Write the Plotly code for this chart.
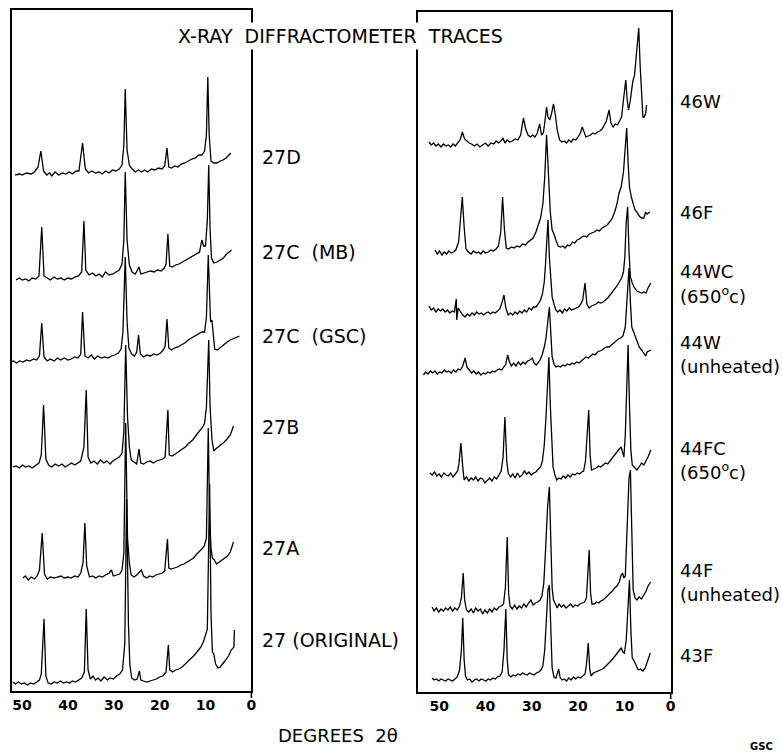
import plotly.graph_objects as go

# ---------------- data: (2-theta in degrees, relative intensity) ----------------
T_27D = [(51.5,0),(50.5,1),(50,0),(49,2),(48,1),(47.3,3),(46.5,8),(45.9,24),(45.3,4),(44.6,0),(44,2),(43.5,-1),
 (42.8,3),(42,0),(41.2,2),(40.5,1),(39.7,3),(39,1),(38.2,4),(37.6,4),(36.8,32),(36.2,6),(35.5,2),(34.8,4),(34,2),
 (33.2,3),(32.5,1),(31.8,4),(31,2),(30.3,5),(29.5,4),(28.8,6),(28.2,10),(27.8,30),(27.5,86),(27.1,25),(26.6,10),
 (26,6),(25.3,3),(24.6,5),(24,3),(23.3,5),(22.6,3),(21.8,6),(21,5),(20.3,7),(19.5,6),(18.9,9),(18.4,27),(18,8),
 (17.4,7),(16.7,9),(16,8),(15.3,11),(14.5,12),(13.7,14),(13,16),(12.2,17),(11.5,20),(10.8,20),(10.2,24),(9.8,40),
 (9.5,98),(9.2,40),(8.8,14),(8.2,12),(7.5,12),(6.8,14),(6.2,15),(5.5,17),(5,19),(4.5,22)]
T_27C_MB = [(51.3,0),(50.6,2),(49.9,0),(49.2,1),(48.5,-1),(47.8,2),(47,1),(46.3,4),(45.7,53),(45.2,4),(44.5,2),
 (43.8,0),(43,3),(42.3,1),(41.5,2),(40.8,0),(40,2),(39.2,1),(38.5,3),(37.7,4),(37,8),(36.5,59),(36.1,10),(35.4,5),
 (34.6,7),(33.9,4),(33.2,6),(32.5,3),(31.8,8),(31,5),(30.2,6),(29.5,8),(28.8,10),(28.2,16),(27.8,40),(27.5,108),
 (27.1,40),(26.6,15),(26,8),(25.3,6),(24.9,10),(24.5,13),(24.1,6),(23.4,7),(22.7,8),(22,9),(21.2,8),(20.5,10),
 (19.7,9),(19,12),(18.6,16),(18.2,46),(17.8,14),(17.2,13),(16.5,15),(15.8,16),(15,18),(14.3,20),(13.6,22),
 (12.8,24),(12,26),(11.3,28),(10.8,40),(10.4,34),(10,34),(9.6,60),(9.3,115),(9.0,50),(8.7,22),(8.2,17),(7.5,18),
 (6.8,20),(6.1,22),(5.4,26),(4.8,28),(4.3,30)]
T_27C_GSC = [(52.6,0),(51.9,1),(51.2,-1),(50.5,1),(49.8,0),(49,2),(48.3,1),(47.5,3),(46.8,2),(46.2,6),(45.7,39),
 (45.2,5),(44.5,1),(43.8,3),(43,1),(42.3,4),(41.6,2),(40.8,4),(40,2),(39.3,3),(38.5,5),(37.8,4),(37.2,8),(36.8,50),
 (36.3,6),(35.6,4),(34.9,7),(34.2,3),(33.5,6),(32.7,4),(32,5),(31.3,4),(30.5,6),(29.8,7),(29,9),(28.4,13),(28,30),
 (27.5,105),(27.1,40),(26.7,14),(26.1,8),(25.5,6),(25,10),(24.6,27),(24.2,8),(23.5,5),(22.8,7),(22,6),(21.3,8),
 (20.6,7),(19.8,9),(19.2,12),(18.8,16),(18.4,43),(18,14),(17.4,12),(16.8,14),(16,15),(15.3,17),(14.5,19),(13.8,22),
 (13,24),(12.2,26),(11.5,28),(10.8,30),(10.2,30),(9.8,45),(9.4,107),(9.1,60),(8.9,40),(8.6,42),(8.4,30),(8.0,13),
 (7.4,12),(6.7,15),(6,18),(5.3,20),(4.6,22),(3.7,24),(2.6,26)]
T_27B = [(52,0),(51.3,1),(50.6,-1),(49.9,2),(49.2,0),(48.5,1),(47.8,-1),(47,2),(46.3,4),(45.8,12),(45.3,62),(44.8,8),
 (44.2,2),(43.5,0),(42.8,3),(42,1),(41.3,3),(40.6,0),(39.9,2),(39.2,4),(38.5,2),(37.8,4),(37.2,6),(36.5,20),(36,77),
 (35.6,10),(35,4),(34.3,6),(33.6,3),(32.9,7),(32.2,4),(31.5,6),(30.8,3),(30.2,6),(29.5,8),(28.8,10),(28.2,14),
 (27.8,35),(27.4,122),(27,50),(26.6,20),(26.2,7),(25.6,5),(25,3),(24.5,18),(24.1,4),(23.5,3),(22.8,5),(22.1,6),
 (21.4,4),(20.7,6),(20,7),(19.3,8),(18.8,10),(18.5,30),(18.2,57),(17.9,12),(17.3,11),(16.6,13),(15.9,15),(15.1,18),
 (14.4,20),(13.6,24),(12.8,27),(12,32),(11.3,36),(10.6,40),(10.2,44),(9.8,60),(9.3,127),(9.0,60),(8.6,28),(8.2,16),
 (7.8,18),(7.2,20),(6.6,22),(5.9,25),(5.3,28),(4.6,32),(3.9,41)]
T_27A = [(49.8,0),(49.3,2),(48.6,-2),(48,1),(47.3,-1),(46.7,2),(46.2,8),(45.6,45),(45.1,4),(44.5,-1),(43.8,1),(43,0),
 (42.3,1),(41.5,2),(40.8,0),(40,1),(39.3,0),(38.5,2),(37.8,1),(37.2,5),(36.7,15),(36.3,55),(35.9,12),(35.3,1),
 (34.6,2),(33.9,0),(33.2,2),(32.5,1),(31.8,3),(31,5),(30.5,8),(30.1,2),(29.4,3),(28.7,4),(28.2,8),(27.8,25),
 (27.4,155),(27,40),(26.6,15),(26.2,3),(25.6,1),(25,3),(24.4,6),(24,8),(23.5,2),(22.8,0),(22.2,2),(21.5,1),(20.8,3),
 (20.1,4),(19.4,5),(18.9,7),(18.6,20),(18.3,39),(18,10),(17.5,9),(16.8,10),(16.1,11),(15.4,13),(14.7,14),(14,16),
 (13.3,18),(12.6,20),(11.9,24),(11.2,27),(10.6,30),(10.2,33),(9.8,40),(9.4,150),(9.1,60),(8.8,30),(8.5,20),(8.1,18),
 (7.6,14),(7.0,16),(6.4,18),(5.8,20),(5.2,22),(4.6,26),(3.9,36)]
T_27 = [(52,2),(51.4,0),(50.8,2),(50.1,0),(49.5,1),(48.8,-1),(48.2,1),(47.5,0),(46.8,2),(46.2,4),(45.8,10),(45.2,65),
 (44.8,8),(44.3,1),(43.6,0),(43,2),(42.3,1),(41.6,3),(41,1),(40.3,2),(39.6,1),(39,3),(38.3,2),(37.6,4),(37,6),
 (36.4,12),(36,75),(35.6,14),(35.1,5),(34.5,8),(34,4),(33.4,6),(32.8,3),(32.1,7),(31.4,4),(30.8,6),(30.1,5),(29.4,8),
 (28.7,10),(28.1,14),(27.6,40),(27.2,185),(26.8,60),(26.5,20),(26.1,6),(25.5,4),(24.9,5),(24.4,13),(24.1,4),(23.5,3),
 (22.8,2),(22.1,3),(21.4,4),(20.7,5),(20,7),(19.3,8),(18.6,12),(18.1,39),(17.8,14),(17.2,12),(16.5,14),(15.8,15),
 (15.1,17),(14.4,20),(13.7,24),(13,27),(12.4,29),(11.7,33),(11,37),(10.4,43),(10,49),(9.6,55),(9.1,200),(8.8,70),
 (8.5,32),(8.2,30),(7.8,20),(7.3,16),(6.8,17),(6.2,20),(5.6,24),(5,28),(4.4,34),(3.8,37),(3.7,54)]

T_46W = [(52.2,3),(51.7,0),(51.2,2),(50.7,-1),(50.2,1),(49.6,-2),(49.1,1),(48.5,-1),(48,0),(47.5,-2),(47,1),(46.5,-1),
 (46,2),(45.4,6),(45,13),(44.5,6),(44,4),(43.5,2),(43,1),(42.4,-1),(41.8,1),(41.2,-2),(40.6,0),(40,2),(39.4,-1),
 (38.8,2),(38.2,1),(37.7,4),(37.2,2),(36.7,4),(36.2,7),(35.8,2),(35.3,5),(34.8,3),(34.2,4),(33.6,6),(33,5),(32.4,10),
 (31.8,27),(31.3,16),(30.8,10),(30.3,8),(29.8,10),(29.3,8),(28.8,12),(28.3,21),(27.9,10),(27.5,12),(27.2,22),
 (26.8,38),(26.5,28),(26.1,25),(25.7,32),(25.3,41),(24.9,30),(24.5,15),(24,5),(23.5,3),(23,4),(22.5,2),(22,5),
 (21.5,3),(21,6),(20.5,5),(20,8),(19.5,12),(19.1,18),(18.7,12),(18.3,8),(17.8,9),(17.3,10),(16.8,12),(16.3,11),
 (15.8,13),(15.3,14),(14.8,16),(14.3,20),(13.9,24),(13.3,35),(12.9,22),(12.4,18),(12,21),(11.5,20),(11,24),
 (10.6,28),(10.2,45),(9.7,65),(9.4,45),(9.1,35),(8.7,45),(8.2,63),(7.8,70),(7.4,95),(6.9,117),(6.6,80),(6.3,45),
 (6,28),(5.7,28),(5.4,32),(5.2,40)]
T_46F = [(50.9,2),(50.4,-2),(49.9,1),(49.4,-3),(48.9,0),(48.4,-2),(47.9,1),(47.4,-1),(46.9,0),(46.4,2),(45.8,10),
 (45.4,30),(45,55),(44.6,25),(44.2,3),(43.7,0),(43.1,-2),(42.6,1),(42,-1),(41.5,0),(41,-2),(40.5,1),(40,-1),(39.4,0),
 (38.8,2),(38.3,1),(37.7,3),(37.2,6),(36.7,20),(36.3,55),(35.9,22),(35.5,4),(35,3),(34.4,5),(33.8,4),(33.2,6),
 (32.6,5),(32,8),(31.4,7),(30.8,10),(30.2,12),(29.7,14),(29.1,20),(28.6,26),(28.1,34),(27.6,48),(27.2,75),(26.8,117),
 (26.4,80),(26,40),(25.6,22),(25.2,18),(24.8,12),(24.3,6),(23.8,5),(23.3,6),(22.8,4),(22.3,7),(21.8,6),(21.2,10),
 (20.7,9),(20.2,12),(19.7,13),(19.2,15),(18.7,16),(18.1,15),(17.6,18),(17,19),(16.5,20),(15.9,22),(15.4,21),
 (14.8,24),(14.3,25),(13.7,27),(13.2,30),(12.6,34),(12.1,40),(11.6,48),(11.2,58),(10.7,65),(10.2,80),(9.8,110),
 (9.5,124),(9.2,90),(8.9,65),(8.5,55),(8.1,48),(7.7,42),(7.3,40),(6.8,36),(6.3,34),(5.8,34),(5.4,40),(5.1,38),(4.5,40)]
T_44WC = [(52.2,6),(51.7,2),(51.2,4),(50.7,0),(50.2,3),(49.7,1),(49.2,3),(48.7,0),(48.2,2),(47.7,-1),(47.2,1),(46.7,0),
 (46.3,13),(46.2,-8),(45.9,4),(45.4,0),(44.9,-3),(44.4,-5),(43.9,-2),(43.4,-4),(42.9,-1),(42.4,-3),(41.9,0),(41.4,-2),
 (40.9,-1),(40.4,-3),(39.9,-1),(39.4,0),(38.9,-2),(38.4,0),(37.9,-1),(37.4,1),(36.9,3),(36.4,10),(36,17),(35.6,4),
 (35.1,-3),(34.6,-1),(34.1,-3),(33.6,0),(33.1,-2),(32.6,1),(32.1,-1),(31.6,2),(31.1,0),(30.6,4),(30.1,2),(29.6,5),
 (29.1,5),(28.6,8),(28.1,12),(27.7,18),(27.3,30),(27,50),(26.7,70),(26.5,92),(26.2,55),(25.9,30),(25.6,15),(25.2,8),
 (24.8,2),(24.4,0),(23.9,2),(23.4,-1),(22.9,3),(22.4,1),(21.9,4),(21.4,2),(20.9,3),(20.4,4),(19.9,5),(19.4,8),(19,12),
 (18.5,29),(18.1,8),(17.6,4),(17.1,6),(16.6,7),(16.1,8),(15.6,10),(15.1,9),(14.6,10),(14.1,12),(13.6,14),(13.1,17),
 (12.6,20),(12.1,22),(11.6,26),(11.1,30),(10.6,34),(10.2,40),(9.9,55),(9.6,90),(9.3,105),(9.0,60),(8.7,35),(8.3,29),
 (7.8,24),(7.3,21),(6.8,20),(6.3,19),(5.8,20),(5.3,19),(4.9,24),(4.3,29)]
T_44W = [(53.4,-3),(52.9,0),(52.4,-2),(51.9,1),(51.4,-1),(50.9,1),(50.4,-2),(49.9,0),(49.4,-1),(48.9,2),(48.4,0),
 (47.9,1),(47.4,-1),(46.9,2),(46.4,0),(45.9,3),(45.4,2),(44.9,6),(44.4,14),(44,5),(43.5,2),(43,-1),(42.5,1),(42,-2),
 (41.5,0),(41,-3),(40.5,-1),(40,-2),(39.5,0),(39,-1),(38.5,1),(38,0),(37.5,2),(37,3),(36.5,2),(36,5),(35.6,8),
 (35.2,17),(34.8,10),(34.4,6),(33.9,9),(33.4,6),(32.9,10),(32.4,7),(31.9,10),(31.4,8),(30.9,11),(30.4,12),(29.9,14),
 (29.5,9),(29,7),(28.5,10),(28.1,13),(27.7,18),(27.3,25),(26.9,35),(26.5,50),(26.2,65),(25.9,40),(25.6,15),(25.2,8),
 (24.8,5),(24.3,6),(23.8,5),(23.3,7),(22.8,6),(22.3,8),(21.8,7),(21.3,9),(20.8,8),(20.3,10),(19.8,9),(19.3,11),
 (18.8,13),(18.3,15),(17.8,14),(17.3,16),(16.8,18),(16.3,17),(15.8,20),(15.3,21),(14.8,22),(14.3,24),(13.8,25),
 (13.3,25),(12.8,27),(12.3,29),(11.8,31),(11.3,33),(10.8,34),(10.3,36),(9.8,45),(9.4,75),(9.0,104),(8.7,70),
 (8.4,45),(8.0,40),(7.6,35),(7.2,30),(6.8,25),(6.3,22),(5.8,18),(5.4,16),(5.1,20),(4.3,22)]
T_44FC = [(52,2),(51.5,0),(51,3),(50.5,-1),(50,1),(49.5,-2),(49,2),(48.5,0),(48,-1),(47.5,2),(47,-2),(46.5,1),(46,4),
 (45.7,12),(45.3,32),(44.9,8),(44.6,-5),(44.1,-2),(43.6,-6),(43.1,-3),(42.6,-5),(42.1,-2),(41.6,-6),(41.1,-3),
 (40.6,-4),(40.1,-8),(39.6,-5),(39.1,-3),(38.6,-6),(38.1,-2),(37.6,-4),(37.1,0),(36.6,4),(36.2,18),(35.8,58),
 (35.4,14),(35.1,2),(34.6,-2),(34.1,1),(33.6,-3),(33.1,2),(32.6,-2),(32.1,0),(31.6,4),(31.1,1),(30.6,3),(30.1,0),
 (29.6,2),(29.1,3),(28.6,6),(28.1,8),(27.7,14),(27.3,30),(26.9,60),(26.6,90),(26.3,118),(26,70),(25.7,30),(25.4,8),
 (25,0),(24.6,-5),(24.2,-3),(23.7,-4),(23.2,-1),(22.7,-3),(22.2,0),(21.7,-2),(21.2,1),(20.7,0),(20.2,2),(19.7,1),
 (19.2,3),(18.8,4),(18.4,14),(18.0,45),(17.7,65),(17.4,20),(17.1,5),(16.6,6),(16.1,7),(15.6,9),(15.1,8),(14.6,10),
 (14.1,12),(13.6,11),(13.1,14),(12.6,17),(12.1,20),(11.6,24),(11.1,26),(10.7,28),(10.4,22),(10.1,18),(9.8,40),
 (9.5,90),(9.2,130),(8.9,70),(8.6,25),(8.3,10),(7.8,7),(7.3,5),(6.8,8),(6.3,12),(5.8,10),(5.3,14),(4.9,18),(4.3,25)]
T_44F = [(51.5,1),(51.1,-3),(50.6,0),(50.1,-4),(49.6,-1),(49.1,-3),(48.6,0),(48.1,-2),(47.6,1),(47.1,-3),(46.6,0),
 (46.1,-2),(45.6,2),(45.2,10),(44.8,35),(44.5,8),(44.1,-2),(43.6,-4),(43.1,-1),(42.6,-5),(42.1,0),(41.6,-3),(41.1,-1),
 (40.6,-6),(40.1,-2),(39.6,-5),(39.1,-1),(38.6,-4),(38.1,0),(37.6,-2),(37.1,1),(36.6,2),(36.1,4),(35.7,20),(35.3,71),
 (35.0,15),(34.7,2),(34.2,-1),(33.7,3),(33.2,-1),(32.7,2),(32.2,0),(31.7,4),(31.2,1),(30.7,5),(30.2,8),(29.7,3),
 (29.2,5),(28.7,6),(28.2,8),(27.8,12),(27.4,25),(27,60),(26.6,100),(26.2,121),(25.9,60),(25.6,20),(25.3,8),(24.9,3),
 (24.5,0),(24.1,4),(23.6,1),(23.1,3),(22.6,0),(22.1,2),(21.6,4),(21.1,1),(20.6,3),(20.1,2),(19.6,4),(19.1,5),(18.6,6),
 (18.2,10),(17.9,30),(17.6,58),(17.3,15),(17.0,4),(16.5,4),(16,6),(15.5,5),(15.1,7),(14.6,8),(14.1,10),(13.6,12),
 (13.1,14),(12.6,17),(12.1,20),(11.6,22),(11.1,26),(10.7,33),(10.4,35),(10.1,30),(9.8,32),(9.4,80),(9.0,130),
 (8.7,138),(8.4,60),(8.1,18),(7.7,10),(7.3,8),(6.8,11),(6.3,9),(5.8,13),(5.3,17),(4.9,22),(4.3,26)]
T_43F = [(51.5,2),(51.1,0),(50.6,1),(50.1,-1),(49.6,1),(49.1,0),(48.6,-1),(48.1,1),(47.6,0),(47.1,-1),(46.6,1),
 (46.1,3),(45.6,10),(45.2,30),(44.9,62),(44.6,20),(44.3,4),(43.9,0),(43.4,1),(42.9,-2),(42.4,0),(41.9,1),(41.4,-1),
 (40.9,1),(40.4,0),(39.9,-1),(39.4,1),(38.9,0),(38.4,2),(37.9,1),(37.4,3),(36.9,4),(36.4,8),(36.0,30),(35.6,71),
 (35.3,20),(35.0,5),(34.5,3),(34.0,5),(33.5,4),(33.0,6),(32.5,5),(32.0,7),(31.5,6),(31.0,5),(30.5,7),(30.0,6),
 (29.5,5),(29.0,7),(28.5,8),(28.0,10),(27.6,14),(27.2,30),(26.8,60),(26.5,90),(26.2,95),(25.9,50),(25.6,12),
 (25.2,3),(24.8,2),(24.5,6),(24.2,11),(23.9,3),(23.5,0),(23.0,1),(22.5,-1),(22.0,2),(21.5,0),(21.0,3),(20.5,1),
 (20.0,3),(19.5,2),(19.0,4),(18.5,6),(18.2,15),(17.8,37),(17.5,12),(17.2,4),(16.7,7),(16.2,8),(15.7,9),(15.2,10),
 (14.7,11),(14.2,13),(13.7,15),(13.2,17),(12.7,20),(12.2,23),(11.7,26),(11.2,29),(10.7,32),(10.3,28),(10.0,27),
 (9.6,40),(9.2,80),(8.9,100),(8.6,50),(8.3,22),(8.0,20),(7.5,14),(7.0,10),(6.5,11),(6.0,9),(5.5,12),(5.0,18),(4.4,27)]

LEFT_TRACES = [T_27D, T_27C_MB, T_27C_GSC, T_27B, T_27A, T_27]
LEFT_OFFSETS = [516, 411, 329, 224, 113, 7]
LEFT_LABELS = ["27D", "27C  (MB)", "27C  (GSC)", "27B", "27A", "27 (ORIGINAL)"]

RIGHT_TRACES = [T_46W, T_46F, T_44WC, T_44W, T_44FC, T_44F, T_43F]
RIGHT_OFFSETS = [547, 440, 380, 320, 217, 84, 12]
RIGHT_LABELS = [["46W"], ["46F"], ["44WC", "(650<sup>o</sup>c)"], ["44W", "(unheated)"],
                ["44FC", "(650<sup>o</sup>c)"], ["44F", "(unheated)"], ["43F"]]

TICKS = [50, 40, 30, 20, 10, 0]

# ---------------- figure ----------------
W, H = 782, 752
FONT = "DejaVu Sans"
fig = go.Figure()

def px_x(p):
    return p / W

def px_y(p):
    return (H - p) / H

for tr, off in zip(LEFT_TRACES, LEFT_OFFSETS):
    fig.add_trace(go.Scatter(x=[a for a, b in tr], y=[off + b for a, b in tr], mode="lines",
                             line=dict(color="black", width=1.3), xaxis="x", yaxis="y",
                             showlegend=False, hoverinfo="skip"))
for tr, off in zip(RIGHT_TRACES, RIGHT_OFFSETS):
    fig.add_trace(go.Scatter(x=[a for a, b in tr], y=[off + b for a, b in tr], mode="lines",
                             line=dict(color="black", width=1.3), xaxis="x2", yaxis="y2",
                             showlegend=False, hoverinfo="skip"))

axis_common = dict(showgrid=False, zeroline=False, showline=True, linecolor="black", linewidth=1.6,
                   mirror=True, ticks="")
tickfont = dict(family=FONT, size=14, color="black", weight="bold")
fig.update_layout(
    width=W, height=H, margin=dict(l=0, r=0, t=0, b=0),
    paper_bgcolor="white", plot_bgcolor="white",
    xaxis=dict(domain=[px_x(12), px_x(253)], range=[52.2, 0], tickvals=TICKS, tickfont=tickfont, **axis_common),
    yaxis=dict(domain=[px_y(691), px_y(10)], range=[0, 681], showticklabels=False, anchor="x", **axis_common),
    xaxis2=dict(domain=[px_x(421), px_x(675)], range=[54.5, 0], tickvals=TICKS, anchor="y2",
                tickfont=tickfont, **axis_common),
    yaxis2=dict(domain=[px_y(692), px_y(12)], range=[0, 680], showticklabels=False, anchor="x2", **axis_common),
)

# small tick marks at 0 (border extends below the axis)
for xp, yp in [(253, 691), (675, 692)]:
    fig.add_shape(type="line", xref="paper", yref="paper", x0=px_x(xp), x1=px_x(xp),
                  y0=px_y(yp), y1=px_y(yp + 7), line=dict(color="black", width=1.6))

ann = []
left_y = [157, 252, 336, 427, 548, 640]
for lab, yp in zip(LEFT_LABELS, left_y):
    ann.append(dict(text=lab, x=px_x(262), y=px_y(yp), xref="paper", yref="paper", xanchor="left",
                    yanchor="middle", showarrow=False, font=dict(family=FONT, size=19, color="black")))
right_y = [[102], [212], [271, 295], [343, 367], [449, 471], [570, 594], [655]]
for labs, ys in zip(RIGHT_LABELS, right_y):
    for lab, yp in zip(labs, ys):
        ann.append(dict(text=lab, x=px_x(682), y=px_y(yp), xref="paper", yref="paper", xanchor="left",
                        yanchor="middle", showarrow=False, font=dict(family=FONT, size=18, color="black")))
ann.append(dict(text="X-RAY  DIFFRACTOMETER  TRACES", x=px_x(343), y=px_y(36), xref="paper", yref="paper",
                xanchor="center", yanchor="middle", showarrow=False, bgcolor="white", borderpad=2,
                font=dict(family=FONT, size=19, color="black")))
ann.append(dict(text="DEGREES  2θ", x=px_x(340), y=px_y(735), xref="paper", yref="paper",
                xanchor="center", yanchor="middle", showarrow=False,
                font=dict(family=FONT, size=18, color="black")))
ann.append(dict(text="<b>GSC</b>", x=px_x(780), y=px_y(746), xref="paper", yref="paper",
                xanchor="right", yanchor="middle", showarrow=False,
                font=dict(family=FONT, size=10, color="black")))
fig.update_layout(annotations=ann)

fig.write_html("out.html")
